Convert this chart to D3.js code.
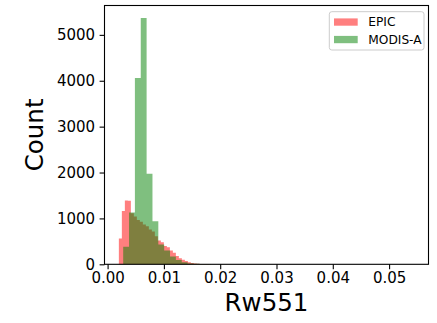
<!DOCTYPE html>
<html>
<head>
<meta charset="utf-8">
<script src="https://cdn.jsdelivr.net/npm/d3@7"></script>
<style>
  html, body { margin: 0; padding: 0; background: #fff; }
  svg { display: block; font-family: "DejaVu Sans", sans-serif; }
</style>
</head>
<body>
<svg id="chart" width="437" height="323"></svg>
<script>
// Histogram bin layout (left edge of the first bin and bin width, in Rw551 units)
const epicStart = 0.0020;
const epicWidth = 0.000533;
const modisStart = 0.00277;
const modisWidth = 0.00104;

// Counts per bin
const epicCounts = [560, 1160, 1390, 1385, 1115, 1040, 965, 930, 870, 830,
                    760, 715, 610, 520, 480, 400, 370, 300, 250, 180,
                    130, 100, 70, 45, 30, 18, 12, 8, 6, 4,
                    3, 2, 2, 1, 1, 1, 1, 0, 1, 0,
                    0, 1, 0, 0, 0, 0, 0, 0, 0, 1];
const modisCounts = [380, 1130, 4060, 5370, 1975, 940, 430, 300, 170, 95,
                     45, 20, 10, 6, 4, 3, 2, 2, 1, 1,
                     1, 1, 0, 1, 0, 0, 1, 0, 0, 0,
                     0, 1, 0, 0, 0, 0, 0, 0, 0, 0,
                     0, 0, 0, 0, 0, 0, 0, 0, 0, 1];

const seriesNames = ["EPIC", "MODIS-A"];
const seriesColors = ["rgb(255,0,0)", "rgb(0,128,0)"];

const xTicks = [0.00, 0.01, 0.02, 0.03, 0.04, 0.05];
const yTicks = [0, 1000, 2000, 3000, 4000, 5000];
const xLabel = "Rw551";
const yLabel = "Count";

const svg = d3.select("#chart");
const plot = { left: 104.5, right: 428.5, top: 5.5, bottom: 264.3 };

const x = d3.scaleLinear().domain([-0.00055, 0.057]).range([plot.left, plot.right]);
const y = d3.scaleLinear().domain([0, 5640]).range([plot.bottom, plot.top]);

function binPoints(start, width, counts) {
  const pts = counts.map((c, i) => ({ x0: start + i * width, c }));
  pts.push({ x0: start + counts.length * width, c: counts[counts.length - 1] });
  return pts;
}

const area = d3.area()
  .x(d => x(d.x0))
  .y0(y(0))
  .y1(d => y(d.c))
  .curve(d3.curveStepAfter);

const series = [
  binPoints(epicStart, epicWidth, epicCounts),
  binPoints(modisStart, modisWidth, modisCounts)
];

svg.append("g")
  .selectAll("path")
  .data(series)
  .join("path")
  .attr("d", area)
  .attr("fill", (d, i) => seriesColors[i])
  .attr("fill-opacity", 0.5);

// Axes
const xAxis = d3.axisBottom(x).tickValues(xTicks).tickFormat(d3.format(".2f"))
  .tickSize(4.9).tickPadding(3.3);
const yAxis = d3.axisLeft(y).tickValues(yTicks).tickFormat(d3.format("d"))
  .tickSize(4.9).tickPadding(4.5);

const gx = svg.append("g").attr("transform", `translate(0,${plot.bottom})`).call(xAxis);
const gy = svg.append("g").attr("transform", `translate(${plot.left},0)`).call(yAxis);
[gx, gy].forEach(g => {
  g.select(".domain").remove();
  g.selectAll(".tick line").attr("stroke", "#000").attr("stroke-width", 1.1);
  g.selectAll(".tick text").attr("fill", "#000").style("font-size", "15px")
    .style("font-family", "DejaVu Sans, sans-serif");
});

// Frame
svg.append("rect")
  .attr("x", plot.left).attr("y", plot.top)
  .attr("width", plot.right - plot.left).attr("height", plot.bottom - plot.top)
  .attr("fill", "none").attr("stroke", "#000").attr("stroke-width", 1.1);

// Axis titles
svg.append("text")
  .attr("x", (plot.left + plot.right) / 2).attr("y", 311)
  .attr("text-anchor", "middle")
  .style("font-size", "24.5px")
  .text(xLabel);

svg.append("text")
  .attr("transform", `translate(43.3,${(plot.top + plot.bottom) / 2}) rotate(-90)`)
  .attr("text-anchor", "middle")
  .style("font-size", "24.5px")
  .text(yLabel);

// Legend
const legend = svg.append("g").attr("transform", "translate(329.3,11.7)");
legend.append("rect")
  .attr("width", 94.7).attr("height", 38.3)
  .attr("rx", 2.5).attr("ry", 2.5)
  .attr("fill", "#fff").attr("fill-opacity", 0.8)
  .attr("stroke", "#cccccc").attr("stroke-width", 1);
seriesNames.forEach((name, i) => {
  const row = legend.append("g").attr("transform", `translate(0,${i * 17.5})`);
  row.append("rect")
    .attr("x", 4.7).attr("y", 6.7).attr("width", 23.7).attr("height", 7.3)
    .attr("fill", seriesColors[i]).attr("fill-opacity", 0.5);
  row.append("text")
    .attr("x", 39).attr("y", 14.4)
    .style("font-size", "12.2px")
    .attr("fill", "#000")
    .text(name);
});
</script>
</body>
</html>
